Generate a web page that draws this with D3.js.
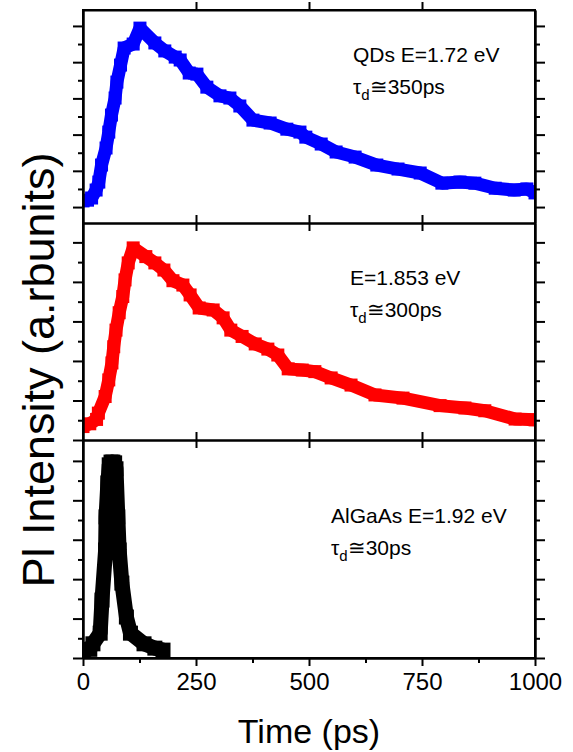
<!DOCTYPE html>
<html lang="en">
  <head>
    <meta charset="UTF-8" />
    <title>PL transients</title>
    <style>
      body {
        margin: 0;
        background: #fff;
        font-family: "Liberation Sans", Arial, Helvetica, sans-serif;
      }
      svg {
        display: block;
      }
      .axis path,
      .axis line {
        stroke: #000;
        stroke-width: 2;
      }
      .axis text {
        font-family: "Liberation Sans", Arial, Helvetica, sans-serif;
        font-size: 24px;
        fill: #000;
      }
      .note {
        font-size: 21px;
      }
      .title {
        text-anchor: middle;
      }
    </style>
  </head>
  <body>
    <script src="https://d3js.org/d3.v7.min.js"></script>
    <script>
      // time axis (ps)
      const xTicks = [0, 250, 500, 750, 1000];
      const xMinorTicks = [125, 375, 625, 875];
      // intensity ticks (arbitrary units, no labels)
      const yTicks = [0, 1, 2, 3, 4, 5];
      const yMinorTicks = [0.5, 1.5, 2.5, 3.5, 4.5];

      // QDs, E = 1.72 eV
      const qdTime = [0, 10, 19, 29, 35, 41, 51, 57, 63, 71, 75, 83, 91, 111, 126, 159, 181, 204, 215, 235, 252, 274, 303, 325, 347, 376, 414, 451, 480, 493, 527, 560, 602, 650, 697, 746, 794, 834, 867, 912, 954, 982, 1000];
      const qdPL = [0.17, 0.19, 0.25, 0.47, 0.69, 1.16, 1.63, 2.07, 2.54, 3.01, 3.45, 3.92, 4.39, 4.5, 4.94, 4.53, 4.31, 4.14, 4.06, 3.7, 3.67, 3.31, 3.07, 3.01, 2.79, 2.4, 2.32, 2.15, 2.07, 1.93, 1.74, 1.52, 1.38, 1.16, 1.05, 0.94, 0.66, 0.69, 0.66, 0.52, 0.47, 0.5, 0.39];

      // E = 1.853 eV
      const midTime = [0, 15, 30, 34, 49, 57, 64, 68, 73, 80, 88, 93, 100, 111, 139, 159, 179, 199, 221, 237, 257, 288, 310, 327, 352, 381, 409, 431, 454, 485, 513, 549, 593, 646, 708, 790, 845, 889, 956, 1000];
      const midPL = [0.34, 0.41, 0.52, 0.68, 1.1, 1.52, 1.95, 2.36, 2.78, 3.22, 3.63, 4.05, 4.48, 4.86, 4.64, 4.48, 4.3, 4.03, 3.92, 3.67, 3.34, 3.29, 3.09, 2.78, 2.62, 2.43, 2.3, 2.15, 1.8, 1.77, 1.73, 1.57, 1.39, 1.14, 1.06, 0.87, 0.81, 0.74, 0.53, 0.51];

      // AlGaAs, E = 1.92 eV
      const algaTime = [0, 15, 22, 38, 42, 50, 51, 55, 58, 62, 66, 70, 73, 77, 80, 86, 96, 105, 135, 159, 177];
      const algaPL = [0.2, 0.22, 0.36, 0.63, 1.47, 2.74, 3.58, 4.44, 4.9, 4.97, 4.97, 4.95, 4.8, 3.58, 2.74, 1.9, 1.04, 0.63, 0.36, 0.25, 0.2];

      const noteLines = [
        ["QDs E=1.72 eV", "350ps"],
        ["E=1.853 eV", "300ps"],
        ["AlGaAs E=1.92 eV", "30ps"]
      ];

      const width = 573;
      const height = 752;
      const left = 83;
      const right = 535;

      const panels = [
        { t: qdTime, v: qdPL, color: "#0000ff", size: 13, top: 10, bottom: 223, dom: [-0.44, 5.44], note: noteLines[0], nx: 353, ny: 62 },
        { t: midTime, v: midPL, color: "#ff0000", size: 13, top: 223, bottom: 440, dom: [0, 5.49], note: noteLines[1], nx: 350, ny: 285 },
        { t: algaTime, v: algaPL, color: "#000000", size: 15, top: 440, bottom: 658, dom: [0, 5.53], note: noteLines[2], nx: 331, ny: 523 }
      ];

      const x = d3.scaleLinear().domain([0, 1000]).range([left, right]);

      const svg = d3
        .select("body")
        .append("svg")
        .attr("width", width)
        .attr("height", height);

      panels.forEach((p, i) => {
        const y = d3.scaleLinear().domain(p.dom).range([p.bottom, p.top]);
        const pts = p.t.map((t, k) => [t, p.v[k]]);

        svg
          .append("clipPath")
          .attr("id", "clip" + i)
          .append("rect")
          .attr("x", left)
          .attr("y", p.top)
          .attr("width", right - left)
          .attr("height", p.bottom - p.top);

        const g = svg.append("g").attr("clip-path", `url(#clip${i})`);

        const line = d3
          .line()
          .x((d) => x(d[0]))
          .y((d) => y(d[1]));

        g.append("path")
          .datum(pts)
          .attr("d", line)
          .attr("fill", "none")
          .attr("stroke", p.color)
          .attr("stroke-width", p.size)
          .attr("stroke-linejoin", "bevel");

        g.selectAll("rect")
          .data(pts)
          .join("rect")
          .attr("x", (d) => x(d[0]) - p.size / 2)
          .attr("y", (d) => y(d[1]) - p.size / 2)
          .attr("width", p.size)
          .attr("height", p.size)
          .attr("fill", p.color);

        // y axes, left and right, ticks outward
        svg.append("g")
          .attr("class", "axis")
          .attr("transform", `translate(${left},0)`)
          .call(d3.axisLeft(y).tickValues(yTicks).tickSize(10).tickSizeOuter(0).tickFormat(""));
        svg.append("g")
          .attr("class", "axis")
          .attr("transform", `translate(${left},0)`)
          .call(d3.axisLeft(y).tickValues(yMinorTicks).tickSize(5).tickSizeOuter(0).tickFormat(""));
        svg.append("g")
          .attr("class", "axis")
          .attr("transform", `translate(${right},0)`)
          .call(d3.axisRight(y).tickValues(yTicks).tickSize(10).tickSizeOuter(0).tickFormat(""));
        svg.append("g")
          .attr("class", "axis")
          .attr("transform", `translate(${right},0)`)
          .call(d3.axisRight(y).tickValues(yMinorTicks).tickSize(5).tickSizeOuter(0).tickFormat(""));

        // x axes, top and bottom
        svg.append("g")
          .attr("class", "axis")
          .attr("transform", `translate(0,${p.top})`)
          .call(d3.axisTop(x).tickValues(xTicks.slice(1, -1)).tickSize(8).tickSizeOuter(0).tickFormat(""));
        const isLast = i === panels.length - 1;
        svg.append("g")
          .attr("class", "axis")
          .attr("transform", `translate(0,${p.bottom})`)
          .call(
            d3.axisBottom(x)
              .tickValues(isLast ? xTicks : xTicks.slice(1, -1))
              .tickSize(8)
              .tickSizeOuter(0)
              .tickPadding(7)
              .tickFormat(isLast ? d3.format("d") : "")
          );
        if (isLast) {
          svg.append("g")
            .attr("class", "axis")
            .attr("transform", `translate(0,${p.bottom})`)
            .call(d3.axisBottom(x).tickValues(xMinorTicks).tickSize(5).tickSizeOuter(0).tickFormat(""));
        }

        // annotation
        const note = svg.append("g").attr("class", "note");
        note.append("text").attr("x", p.nx).attr("y", p.ny).text(p.note[0]);
        const t2 = note.append("text").attr("x", p.nx).attr("y", p.ny + 32);
        t2.append("tspan").text("τ");
        t2.append("tspan").attr("dy", 6).attr("font-size", 15).text("d");
        t2.append("tspan").attr("dy", -6).text("≅" + p.note[1]);
      });

      // frame around the whole stack
      svg.append("rect")
        .attr("x", left)
        .attr("y", panels[0].top)
        .attr("width", right - left)
        .attr("height", panels[2].bottom - panels[0].top)
        .attr("fill", "none")
        .attr("stroke", "#000")
        .attr("stroke-width", 2);

      svg.append("text")
        .attr("class", "title")
        .attr("x", (left + right) / 2)
        .attr("y", 743)
        .attr("font-size", 34)
        .text("Time (ps)");

      svg.append("text")
        .attr("class", "title")
        .attr("transform", "translate(54,370) rotate(-90)")
        .attr("font-size", 45)
        .text("Pl Intensity (a.rbunits)");
    </script>
  </body>
</html>
